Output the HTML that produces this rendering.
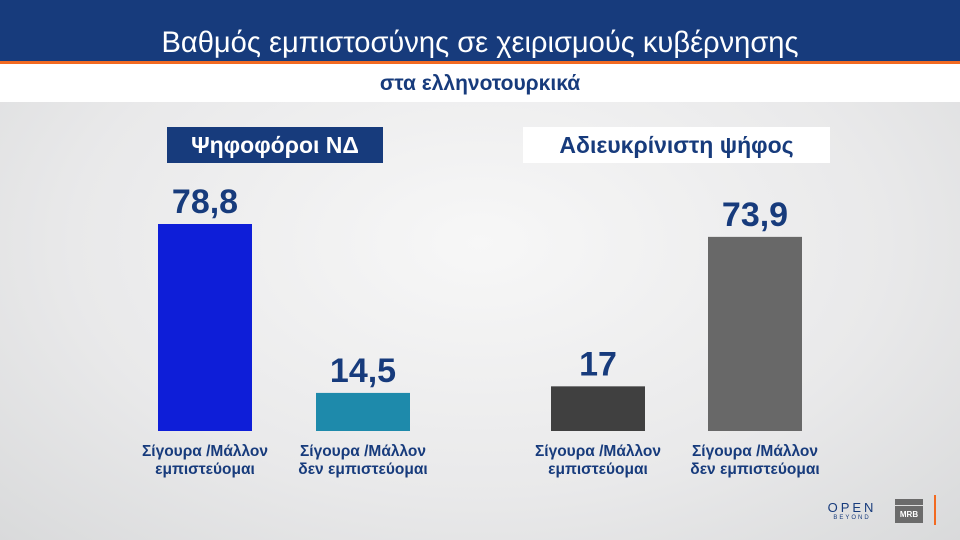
<!DOCTYPE html>
<html><head><meta charset="utf-8"><style>
body{margin:0}
#c{position:relative;width:960px;height:540px;overflow:hidden;font-family:"Liberation Sans","DejaVu Sans",sans-serif;background:radial-gradient(ellipse at 50% 45%,#f7f7f7 0%,#e9e9ea 60%,#d9dadb 100%)}
.hdr{position:absolute;left:0;top:0;width:960px;height:61px;background:#173b7c}
.org{position:absolute;left:0;top:61px;width:960px;height:3px;background:#f26a21}
.sub{position:absolute;left:0;top:64px;width:960px;height:38px;background:#fff}
.t{position:absolute;white-space:nowrap;text-align:center}
</style></head><body>
<div id="c">
<div class="hdr"></div>
<div class="org"></div>
<div class="sub"></div>
<div class="t" style="left:0;width:960px;top:26px;font-size:30px;color:#fff;line-height:34px;transform:scaleX(0.97)">Βαθμός εμπιστοσύνης σε χειρισμούς κυβέρνησης</div>
<div class="t" style="left:0;width:960px;top:71px;font-size:21px;font-weight:bold;color:#173b7c;line-height:26px">στα ελληνοτουρκικά</div>
<div class="t" style="left:167px;width:216px;top:127px;height:36px;line-height:36px;background:#173b7c;color:#fff;font-weight:bold;font-size:23px">Ψηφοφόροι ΝΔ</div>
<div class="t" style="left:523px;width:307px;top:127px;height:36px;line-height:36px;background:#fff;color:#173b7c;font-weight:bold;font-size:23px">Αδιευκρίνιστη ψήφος</div>
<svg id="s" width="960" height="540" style="position:absolute;left:0;top:0"></svg>
<div class="t" style="left:822px;top:500px;width:60px;font-size:13px;letter-spacing:3px;color:#173b7c">OPEN</div>
<div class="t" style="left:827px;top:515px;width:50px;font-size:6px;letter-spacing:2px;color:#173b7c">BEYOND</div>
<div style="position:absolute;left:895px;top:499px;width:28px;height:24px;background:#6b6b6b"><div style="position:absolute;left:0;top:6px;width:28px;height:1px;background:#ddd"></div><div style="position:absolute;left:0;top:11px;width:28px;font-size:8px;font-weight:bold;color:#fff;text-align:center">MRB</div></div>
<div style="position:absolute;left:934px;top:495px;width:2px;height:30px;background:#f26a21"></div>
</div>
<script>
const categories=["Σίγουρα /Μάλλον|εμπιστεύομαι","Σίγουρα /Μάλλον|δεν εμπιστεύομαι","Σίγουρα /Μάλλον|εμπιστεύομαι","Σίγουρα /Μάλλον|δεν εμπιστεύομαι"];
const values=[78.8,14.5,17,73.9];
const labels=["78,8","14,5","17","73,9"];
const colors=["#0e1ed8","#1e8aab","#404040","#686868"];
const xs=[205,363,598,755];
const base=431, k=207/78.8, bw=94;
const y=v=>base-v*k;
const s=document.getElementById('s'),NS='http://www.w3.org/2000/svg';
values.forEach((v,i)=>{
 const r=document.createElementNS(NS,'rect');
 
 
 r.setAttribute('x',xs[i]-bw/2);r.setAttribute('y',y(v));r.setAttribute('width',bw);r.setAttribute('height',base-y(v));r.setAttribute('fill',colors[i]);
 s.appendChild(r);
 const t=document.createElementNS(NS,'text');
 
 
 t.setAttribute('x',xs[i]);t.setAttribute('y',y(v)-11);t.setAttribute('text-anchor','middle');t.setAttribute('font-size','34');t.setAttribute('font-weight','bold');t.setAttribute('fill','#173b7c');t.setAttribute('font-family','Liberation Sans, sans-serif');
 t.textContent=labels[i];s.appendChild(t);
 categories[i].split('|').forEach((ln,j)=>{
  const c=document.createElementNS(NS,'text');
  
  
  c.setAttribute('x',xs[i]);c.setAttribute('y',456+j*18);c.setAttribute('text-anchor','middle');c.setAttribute('font-size','15.5');c.setAttribute('font-weight','bold');c.setAttribute('fill','#173b7c');c.setAttribute('font-family','Liberation Sans, sans-serif');
  c.textContent=ln;s.appendChild(c);
 });
});
</script>
</body></html>
